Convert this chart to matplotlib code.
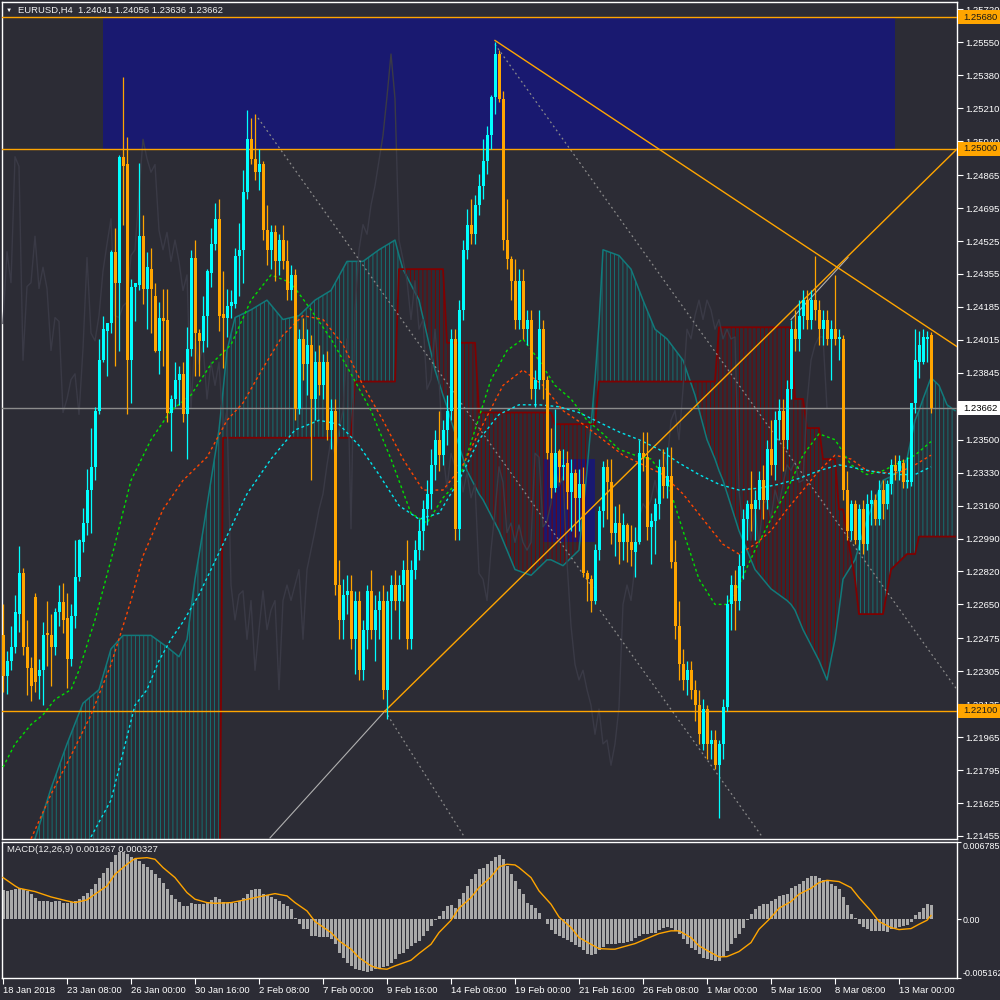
import numpy as np
import matplotlib
matplotlib.use("Agg")
import matplotlib.pyplot as plt
from matplotlib.patches import Rectangle
from matplotlib.transforms import blended_transform_factory

# EURUSD H4 candles, bar 0 = 18 Jan 2018 16:00
opens = [1.2249, 1.2228, 1.2236, 1.2243, 1.2260, 1.2281, 1.2243, 1.2232, 1.2269, 1.2228,
         1.2231, 1.2250, 1.2249, 1.2243, 1.2261, 1.2266, 1.2258, 1.2237, 1.2259, 1.2279,
         1.2297, 1.2307, 1.2324, 1.2336, 1.2365, 1.2391, 1.2406, 1.2410, 1.2447, 1.2431,
         1.2496, 1.2492, 1.2391, 1.2429, 1.2430, 1.2455, 1.2428, 1.2438, 1.2424, 1.2396,
         1.2413, 1.2412, 1.2364, 1.2371, 1.2381, 1.2384, 1.2363, 1.2397, 1.2444, 1.2405,
         1.2401, 1.2414, 1.2436, 1.2451, 1.2464, 1.2415, 1.2413, 1.2419, 1.2420, 1.2445,
         1.2448, 1.2478, 1.2505, 1.2495, 1.2488, 1.2492, 1.2458, 1.2448, 1.2457, 1.2442,
         1.2453, 1.2442, 1.2427, 1.2435, 1.2366, 1.2402, 1.2389, 1.2399, 1.2371, 1.2390,
         1.2378, 1.2390, 1.2355, 1.2365, 1.2275, 1.2257, 1.2270, 1.2272, 1.2247, 1.2267,
         1.2231, 1.2252, 1.2272, 1.2252, 1.2262, 1.2267, 1.2221, 1.2267, 1.2275, 1.2267,
         1.2275, 1.2283, 1.2247, 1.2283, 1.2293, 1.2303, 1.2314, 1.2322, 1.2337, 1.2350,
         1.2342, 1.2355, 1.2365, 1.2402, 1.2304, 1.2417, 1.2448, 1.2461, 1.2456, 1.2471,
         1.2481, 1.2494, 1.2507, 1.2527, 1.2549, 1.2526, 1.2453, 1.2443, 1.2432, 1.2412,
         1.2432, 1.2407, 1.2412, 1.2376, 1.2381, 1.2407, 1.2381, 1.2343, 1.2325, 1.2344,
         1.2336, 1.2338, 1.2323, 1.2333, 1.2320, 1.2327, 1.2281, 1.2278, 1.2267, 1.2293,
         1.2313, 1.2336, 1.2328, 1.2302, 1.2307, 1.2297, 1.2306, 1.2297, 1.2292, 1.2297,
         1.2343, 1.2341, 1.2305, 1.2308, 1.2317, 1.2336, 1.2326, 1.2331, 1.2287, 1.2254,
         1.2234, 1.2226, 1.2231, 1.2221, 1.2213, 1.2193, 1.2211, 1.2193, 1.2195, 1.2182,
         1.2193, 1.2212, 1.2265, 1.2275, 1.2267, 1.2285, 1.2309, 1.2317, 1.2314, 1.2319,
         1.2329, 1.2319, 1.2345, 1.2337, 1.2360, 1.2365, 1.2350, 1.2376, 1.2407, 1.2402,
         1.2414, 1.2422, 1.2412, 1.2422, 1.2417, 1.2407, 1.2412, 1.2402, 1.2407, 1.2402,
         1.2402, 1.2324, 1.2303, 1.2317, 1.2298, 1.2314, 1.2296, 1.2317, 1.2319, 1.2309,
         1.2324, 1.2317, 1.2327, 1.2337, 1.2334, 1.2338, 1.2328, 1.2328, 1.2369, 1.2390,
         1.2390, 1.2402, 1.24041]
highs = [1.2265, 1.2241, 1.2254, 1.2270, 1.2295, 1.2284, 1.2257, 1.2238, 1.2271, 1.2237,
         1.2256, 1.2267, 1.2260, 1.2263, 1.2275, 1.2276, 1.2271, 1.2265, 1.2298, 1.2299,
         1.2315, 1.2335, 1.2356, 1.2367, 1.2402, 1.2414, 1.2410, 1.2448, 1.2459, 1.2497,
         1.2537, 1.2506, 1.2433, 1.2431, 1.2493, 1.2466, 1.2447, 1.2449, 1.2431, 1.2421,
         1.2428, 1.2428, 1.2373, 1.2390, 1.2388, 1.2390, 1.2408, 1.2448, 1.2453, 1.2407,
         1.2424, 1.2438, 1.2459, 1.2472, 1.2474, 1.2437, 1.2428, 1.2427, 1.2449, 1.2462,
         1.2489, 1.2520, 1.2516, 1.2518, 1.2500, 1.2494, 1.2471, 1.2461, 1.2461, 1.2456,
         1.2461, 1.2453, 1.2440, 1.2438, 1.2407, 1.2413, 1.2407, 1.2404, 1.2396, 1.2399,
         1.2394, 1.2396, 1.2371, 1.2371, 1.2288, 1.2278, 1.2280, 1.2280, 1.2272, 1.2272,
         1.2257, 1.2275, 1.2283, 1.2270, 1.2272, 1.2275, 1.2272, 1.2280, 1.2283, 1.2280,
         1.2288, 1.2298, 1.2288, 1.2298, 1.2309, 1.2319, 1.2329, 1.2345, 1.2355, 1.2365,
         1.2360, 1.2373, 1.2407, 1.2407, 1.2422, 1.2453, 1.2469, 1.2474, 1.2476, 1.2487,
         1.2505, 1.2512, 1.2528, 1.2555, 1.2551, 1.2530, 1.2474, 1.2445, 1.2443, 1.2438,
         1.2438, 1.2417, 1.2417, 1.2386, 1.2417, 1.2412, 1.2383, 1.2356, 1.2366, 1.2345,
         1.2345, 1.2344, 1.2340, 1.2335, 1.2335, 1.2336, 1.2283, 1.2280, 1.2296, 1.2316,
         1.2339, 1.2340, 1.2340, 1.2316, 1.2317, 1.2312, 1.2307, 1.2306, 1.2305, 1.2350,
         1.2354, 1.2354, 1.2312, 1.2320, 1.2340, 1.2345, 1.2346, 1.2346, 1.2298, 1.2267,
         1.2242, 1.2236, 1.2236, 1.2226, 1.2221, 1.2216, 1.2213, 1.2200, 1.2200, 1.2195,
         1.2216, 1.2270, 1.2280, 1.2283, 1.2291, 1.2314, 1.2319, 1.2334, 1.2324, 1.2334,
         1.2337, 1.2350, 1.2360, 1.2365, 1.2371, 1.2371, 1.2381, 1.2412, 1.2417, 1.2422,
         1.2427, 1.2427, 1.2427, 1.2445, 1.2422, 1.2417, 1.2417, 1.2412, 1.2435, 1.2407,
         1.2404, 1.2334, 1.2319, 1.2319, 1.2317, 1.2319, 1.2322, 1.2324, 1.2322, 1.2329,
         1.2329, 1.2329, 1.2340, 1.2342, 1.2342, 1.2340, 1.2341, 1.2369, 1.2407, 1.2406,
         1.2407, 1.2406, 1.24056]
lows = [1.2220, 1.2219, 1.2231, 1.2240, 1.2251, 1.2239, 1.2218, 1.2215, 1.2220, 1.2216,
        1.2213, 1.2233, 1.2223, 1.2239, 1.2254, 1.2250, 1.2222, 1.2233, 1.2253, 1.2277,
        1.2292, 1.2301, 1.2302, 1.2329, 1.2363, 1.2390, 1.2383, 1.2405, 1.2388, 1.2396,
        1.2461, 1.2363, 1.2369, 1.2411, 1.2427, 1.2420, 1.2407, 1.2405, 1.2395, 1.2384,
        1.2388, 1.2359, 1.2344, 1.2367, 1.2368, 1.2359, 1.2340, 1.2393, 1.2383, 1.2383,
        1.2395, 1.2398, 1.2429, 1.2448, 1.2406, 1.2387, 1.2403, 1.2413, 1.2418, 1.2424,
        1.2431, 1.2474, 1.2492, 1.2484, 1.2479, 1.2453, 1.2440, 1.2438, 1.2432, 1.2435,
        1.2438, 1.2422, 1.2422, 1.2360, 1.2363, 1.2381, 1.2373, 1.2329, 1.2360, 1.2373,
        1.2371, 1.2350, 1.2345, 1.2270, 1.2247, 1.2247, 1.2260, 1.2242, 1.2229, 1.2226,
        1.2226, 1.2242, 1.2247, 1.2236, 1.2247, 1.2216, 1.2206, 1.2247, 1.2262, 1.2247,
        1.2267, 1.2242, 1.2242, 1.2278, 1.2288, 1.2293, 1.2306, 1.2314, 1.2329, 1.2334,
        1.2337, 1.2347, 1.2360, 1.2298, 1.2298, 1.2412, 1.2443, 1.2451, 1.2451, 1.2466,
        1.2474, 1.2487, 1.2500, 1.2518, 1.2524, 1.2448, 1.2438, 1.2422, 1.2407, 1.2407,
        1.2402, 1.2399, 1.2371, 1.2367, 1.2376, 1.2371, 1.2340, 1.2320, 1.2323, 1.2328,
        1.2329, 1.2314, 1.2303, 1.2300, 1.2303, 1.2279, 1.2267, 1.2261, 1.2265, 1.2288,
        1.2305, 1.2309, 1.2296, 1.2290, 1.2286, 1.2288, 1.2287, 1.2285, 1.2279, 1.2296,
        1.2334, 1.2298, 1.2286, 1.2291, 1.2309, 1.2320, 1.2320, 1.2284, 1.2247, 1.2226,
        1.2221, 1.2218, 1.2216, 1.2205, 1.2193, 1.2190, 1.2185, 1.2185, 1.2180, 1.2155,
        1.2185, 1.2210, 1.2252, 1.2252, 1.2262, 1.2278, 1.2298, 1.2303, 1.2298, 1.2314,
        1.2309, 1.2314, 1.2332, 1.2329, 1.2350, 1.2334, 1.2345, 1.2371, 1.2396, 1.2396,
        1.2407, 1.2407, 1.2407, 1.2412, 1.2399, 1.2399, 1.2399, 1.2381, 1.2399, 1.2391,
        1.2319, 1.2298, 1.2298, 1.2296, 1.2293, 1.2291, 1.2293, 1.2306, 1.2306, 1.2306,
        1.2309, 1.2314, 1.2322, 1.2329, 1.2329, 1.2325, 1.2325, 1.2326, 1.2364, 1.2382,
        1.2389, 1.2390, 1.23636]
closes = [1.2228, 1.2236, 1.2243, 1.2261, 1.2281, 1.2243, 1.2232, 1.2223, 1.2225, 1.2231,
          1.2249, 1.2249, 1.2243, 1.2261, 1.2266, 1.2257, 1.2237, 1.2259, 1.2279, 1.2298,
          1.2307, 1.2324, 1.2336, 1.2365, 1.2391, 1.2407, 1.2410, 1.2447, 1.2431, 1.2496,
          1.2491, 1.2391, 1.2429, 1.2431, 1.2455, 1.2428, 1.2439, 1.2428, 1.2396, 1.2413,
          1.2411, 1.2364, 1.2371, 1.2381, 1.2384, 1.2363, 1.2397, 1.2444, 1.2405, 1.2401,
          1.2414, 1.2437, 1.2451, 1.2464, 1.2414, 1.2413, 1.2419, 1.2421, 1.2445, 1.2448,
          1.2478, 1.2505, 1.2495, 1.2488, 1.2492, 1.2458, 1.2448, 1.2457, 1.2442, 1.2453,
          1.2442, 1.2427, 1.2435, 1.2366, 1.2402, 1.2389, 1.2399, 1.2371, 1.2390, 1.2378,
          1.2390, 1.2355, 1.2365, 1.2275, 1.2257, 1.2270, 1.2272, 1.2247, 1.2267, 1.2231,
          1.2252, 1.2272, 1.2252, 1.2262, 1.2267, 1.2221, 1.2267, 1.2275, 1.2267, 1.2275,
          1.2283, 1.2247, 1.2283, 1.2293, 1.2303, 1.2314, 1.2322, 1.2337, 1.2350, 1.2342,
          1.2355, 1.2365, 1.2402, 1.2304, 1.2417, 1.2448, 1.2461, 1.2456, 1.2471, 1.2481,
          1.2494, 1.2507, 1.2527, 1.2549, 1.2526, 1.2453, 1.2443, 1.2432, 1.2412, 1.2432,
          1.2407, 1.2412, 1.2376, 1.2381, 1.2407, 1.2381, 1.2343, 1.2325, 1.2343, 1.2336,
          1.2337, 1.2323, 1.2333, 1.2320, 1.2327, 1.2281, 1.2278, 1.2267, 1.2293, 1.2313,
          1.2336, 1.2328, 1.2302, 1.2307, 1.2297, 1.2306, 1.2297, 1.2293, 1.2297, 1.2343,
          1.2341, 1.2305, 1.2308, 1.2317, 1.2336, 1.2326, 1.2331, 1.2287, 1.2254, 1.2234,
          1.2226, 1.2231, 1.2221, 1.2213, 1.2198, 1.2211, 1.2193, 1.2195, 1.2182, 1.2193,
          1.2212, 1.2265, 1.2275, 1.2267, 1.2285, 1.2309, 1.2317, 1.2314, 1.2319, 1.2329,
          1.2319, 1.2345, 1.2337, 1.2360, 1.2365, 1.2350, 1.2376, 1.2407, 1.2402, 1.2414,
          1.2422, 1.2412, 1.2422, 1.2417, 1.2407, 1.2412, 1.2402, 1.2407, 1.2402, 1.2403,
          1.2324, 1.2303, 1.2317, 1.2298, 1.2314, 1.2296, 1.2317, 1.2319, 1.2309, 1.2324,
          1.2317, 1.2327, 1.2337, 1.2334, 1.2339, 1.2328, 1.2329, 1.2369, 1.2391, 1.2399,
          1.2403, 1.2403, 1.23662]

# MACD(12,26,9) main values, units of 1e-5
macd_e5 = [255, 249, 255, 269, 278, 269, 249, 225, 190, 158,
           158, 158, 152, 158, 161, 146, 143, 152, 161, 181,
           205, 228, 269, 307, 366, 404, 454, 506, 565, 594,
           594, 571, 547, 527, 512, 489, 462, 433, 395, 366,
           322, 269, 211, 176, 152, 117, 117, 146, 138, 132,
           138, 152, 173, 196, 176, 152, 146, 146, 143, 161,
           190, 225, 255, 263, 263, 225, 214, 196, 176, 161,
           132, 117, 88, 15, -44, -88, -88, -146, -146, -155,
           -155, -155, -176, -220, -293, -342, -381, -410, -439, -448,
           -454, -460, -454, -439, -424, -419, -410, -381, -351, -307,
           -293, -263, -234, -205, -190, -146, -102, -59, -9, 29,
           73, 117, 123, 102, 176, 234, 293, 351, 401, 439,
           454, 483, 512, 547, 565, 527, 468, 395, 337, 263,
           220, 146, 123, 97, 59, 0, -38, -97, -132, -146,
           -161, -184, -196, -225, -243, -272, -307, -313, -307, -272,
           -243, -220, -214, -214, -208, -208, -196, -190, -161, -146,
           -126, -126, -120, -120, -97, -73, -67, -73, -102, -132,
           -176, -220, -249, -272, -307, -337, -351, -360, -366, -366,
           -322, -278, -220, -161, -132, -73, -9, 44, 88, 117,
           132, 132, 161, 176, 205, 214, 220, 272, 293, 313,
           337, 366, 381, 381, 366, 342, 337, 313, 293, 263,
           196, 126, 50, 15, -38, -67, -88, -102, -102, -102,
           -102, -108, -88, -73, -67, -59, -50, -20, 38, 67,
           97, 138, 127]
sig_bars = [0, 3, 4, 8, 12, 16, 18, 21, 23, 26, 28, 31, 33, 36, 38, 40, 43, 46, 48, 51,
            53, 57, 60, 63, 66, 68, 71, 73, 76, 78, 82, 84, 87, 89, 92, 94, 96, 98, 102, 104,
            107, 109, 112, 114, 117, 119, 122, 124, 126, 128, 129, 132, 134, 137, 139, 142,
            144, 147, 149, 152, 153, 155, 158, 160, 163, 164, 167, 169, 172, 174, 177, 179,
            181, 184, 187, 189, 192, 194, 197, 199, 202, 204, 206, 209, 212, 214, 217, 219,
            222, 224, 227, 229, 231, 232]
sig_e5 = [366, 293, 272, 243, 196, 161, 146, 170, 220, 293, 395, 483, 533, 541, 527, 454,
          366, 234, 176, 146, 140, 146, 167, 190, 211, 225, 205, 146, 73, -20, -117, -190,
          -263, -337, -410, -433, -439, -410, -360, -301, -220, -117, -9, 97, 190, 278, 372,
          460, 483, 477, 454, 366, 249, 132, 20, -73, -161, -220, -258, -263, -263, -243,
          -214, -184, -140, -126, -102, -102, -161, -234, -293, -331, -328, -284, -205, -88,
          15, 97, 155, 220, 272, 322, 342, 331, 278, 190, 73, -20, -73, -91, -82, -44, -9, 33]

# dashed moving averages (bar, price)
green_bars = [0, 3, 7, 10, 13, 17, 19, 23, 27, 32, 37, 42, 47, 52, 57, 62, 67, 72, 77, 82,
              87, 92, 97, 102, 106, 110, 114, 118, 122, 126, 130, 134, 138, 142, 146, 150,
              154, 158, 162, 166, 170, 174, 178, 181, 184, 188, 192, 196, 200, 204, 208,
              212, 216, 220, 224, 228, 232]
green_vals = [1.2181, 1.2193, 1.2203, 1.2208, 1.2216, 1.2221, 1.2231, 1.2257, 1.2288, 1.2329,
              1.2350, 1.2365, 1.2373, 1.2389, 1.2399, 1.2422, 1.2435, 1.2431, 1.2417, 1.2402,
              1.2384, 1.2365, 1.2340, 1.2312, 1.2307, 1.2320, 1.2329, 1.2355, 1.2381, 1.2396,
              1.2402, 1.2391, 1.2378, 1.2371, 1.2360, 1.2353, 1.2345, 1.2342, 1.2340, 1.2329,
              1.2303, 1.2278, 1.2265, 1.2265, 1.2275, 1.2293, 1.2309, 1.2324, 1.2342, 1.2353,
              1.2350, 1.2337, 1.2332, 1.2334, 1.2338, 1.2342, 1.2349]
red_bars = [7, 12, 17, 22, 27, 32, 35, 40, 45, 51, 56, 60, 65, 70, 75, 80, 85, 90, 95, 100,
            105, 110, 115, 120, 125, 130, 135, 140, 145, 150, 155, 160, 165, 170, 175, 180,
            184, 188, 192, 196, 200, 204, 208, 212, 216, 220, 224, 228, 232]
red_vals = [1.2144, 1.2167, 1.2187, 1.2208, 1.2234, 1.2267, 1.2290, 1.2314, 1.2329, 1.2341,
            1.2360, 1.2369, 1.2387, 1.2404, 1.2414, 1.2412, 1.2399, 1.2378, 1.2360, 1.2340,
            1.2324, 1.2324, 1.2337, 1.2358, 1.2378, 1.2386, 1.2378, 1.2365, 1.2358, 1.2350,
            1.2342, 1.2337, 1.2332, 1.2322, 1.2309, 1.2296, 1.2291, 1.2296, 1.2303, 1.2314,
            1.2324, 1.2334, 1.2342, 1.2340, 1.2334, 1.2333, 1.2333, 1.2337, 1.2342]
cyan_bars = [22, 27, 33, 36, 39, 42, 45, 49, 55, 61, 67, 73, 79, 84, 89, 94, 99, 104, 109,
             114, 119, 124, 129, 134, 139, 144, 149, 154, 159, 164, 169, 174, 179, 184, 189,
             194, 199, 204, 209, 214, 219, 224, 228, 232]
cyan_vals = [1.2145, 1.2164, 1.2213, 1.2221, 1.2236, 1.2247, 1.2256, 1.2270, 1.2296, 1.2322,
             1.2340, 1.2355, 1.2360, 1.2358, 1.2347, 1.2332, 1.2316, 1.2309, 1.2312, 1.2329,
             1.2350, 1.2363, 1.2368, 1.2368, 1.2367, 1.2364, 1.2359, 1.2354, 1.2350, 1.2345,
             1.2338, 1.2332, 1.2327, 1.2324, 1.2325, 1.2327, 1.2330, 1.2334, 1.2337, 1.2335,
             1.2333, 1.2332, 1.2332, 1.2336]

# ichimoku cloud: senkou span A / span B
ichi_bars = [0, 8, 12, 16, 20, 24, 27, 30, 37, 41, 44, 46, 48, 50, 52, 54, 55, 56, 58, 62,
             66, 70, 74, 75, 78, 82, 86, 87, 88, 90, 94, 98, 99, 100, 104, 108, 110, 111, 112, 116,
             118, 119, 120, 124, 128, 132, 136, 137, 138, 140, 144, 146, 148, 149, 150, 154, 157, 160, 163, 166,
             170, 173, 176, 178, 179, 180, 184, 188, 192, 196, 197, 198, 200, 201, 204, 205, 206, 208, 209, 210,
             213, 214, 216, 220, 222, 224, 226, 228, 229, 230, 232, 234, 236, 238]
span_a = [1.2120, 1.2144, 1.2170, 1.2193, 1.2214, 1.2221, 1.2242, 1.2249, 1.2249, 1.2243,
          1.2238, 1.2247, 1.2278, 1.2303, 1.2329, 1.2355, 1.2375, 1.2396, 1.2413, 1.2417,
          1.2422, 1.2412, 1.2414, 1.2416, 1.2422, 1.2427, 1.2442, 1.2442, 1.2442, 1.2442,
          1.2448, 1.2453, 1.2445, 1.2438, 1.2422, 1.2386, 1.2373, 1.2367, 1.2360, 1.2334,
          1.2326, 1.2322, 1.2319, 1.2303, 1.2283, 1.2280, 1.2288, 1.2288, 1.2287, 1.2285,
          1.2293, 1.2334, 1.2381, 1.2410, 1.2448, 1.2445, 1.2438, 1.2422, 1.2407, 1.2402,
          1.2391, 1.2373, 1.2350, 1.2340, 1.2334, 1.2329, 1.2303, 1.2283, 1.2273, 1.2267,
          1.2265, 1.2262, 1.2252, 1.2248, 1.2236, 1.2231, 1.2226, 1.2247, 1.2262, 1.2278,
          1.2288, 1.2295, 1.2309, 1.2329, 1.2331, 1.2334, 1.2340, 1.2360, 1.2365, 1.2371,
          1.2382, 1.2378, 1.2368, 1.2365]
span_b = [1.2080] * 16 + [1.2351] * 12 + [1.2380] * 4 + [1.2438] * 5 + [1.2400] * 4 + \
         [1.2364] * 7 + [1.2358] * 5 + [1.2380] * 11 + [1.2408] * 7 + [1.2371] * 2 + \
         [1.2356] * 2 + [1.2340] * 3 + [1.2314] * 2 + [1.2278] + [1.2260] * 3 + [1.2283] + \
         [1.2287] + [1.2291] * 2 + [1.2300] * 6

price_ticks = [1.25720, 1.25550, 1.25380, 1.25210, 1.25040, 1.24865, 1.24695, 1.24525,
               1.24355, 1.24185, 1.24015, 1.23845, 1.23675, 1.23500, 1.23330, 1.23160,
               1.22990, 1.22820, 1.22650, 1.22475, 1.22305, 1.22135, 1.21965, 1.21795,
               1.21625, 1.21455]
time_ticks = [0, 16, 32, 48, 64, 80, 96, 112, 128, 144, 160, 176, 192, 208, 224]
time_labels = ["18 Jan 2018", "23 Jan 08:00", "26 Jan 00:00", "30 Jan 16:00", "2 Feb 08:00",
               "7 Feb 00:00", "9 Feb 16:00", "14 Feb 08:00", "19 Feb 00:00", "21 Feb 16:00",
               "26 Feb 08:00", "1 Mar 00:00", "5 Mar 16:00", "8 Mar 08:00", "13 Mar 00:00"]

hlines_orange = [1.25680, 1.25000, 1.22100]
last_price = 1.23662

bg = "#2c2c35"
up_col = "#00ffff"
dn_col = "#ffa500"
teal = "#117a7b"
maroon = "#800000"
navy = "#191970"

plt.rcParams['font.family'] = ['Liberation Sans', 'DejaVu Sans']
plt.rcParams['hatch.linewidth'] = 0.6
fs = 6.8

fig = plt.figure(figsize=(10, 10), dpi=100, facecolor=bg)
ax = fig.add_axes([0.002, 0.161, 0.955, 0.837])
ax2 = fig.add_axes([0.002, 0.022, 0.955, 0.136], sharex=ax)

for a in (ax, ax2):
    a.set_facecolor(bg)
    for s in a.spines.values():
        s.set_color("white")
        s.set_linewidth(1)

ax.set_xlim(-0.25, 238.5)
ax.set_ylim(1.214394, 1.257585)

# rectangles
ax.add_patch(Rectangle((25, 1.2500), 198, 0.0068, facecolor=navy, edgecolor="none", zorder=1))
ax.add_patch(Rectangle((135, 1.2297), 13, 0.0043, facecolor=navy, edgecolor="none", zorder=1))

# ichimoku cloud
ib = np.array(ichi_bars)
sa = np.array(span_a)
sb = np.array(span_b)
ax.fill_between(ib, sa, sb, where=sa >= sb, interpolate=True, facecolor="none",
                edgecolor=teal, hatch="||||", linewidth=0, zorder=2)
ax.fill_between(ib, sa, sb, where=sa < sb, interpolate=True, facecolor="none",
                edgecolor=maroon, hatch="||||", linewidth=0, zorder=2)
ax.plot(ib, sa, color=teal, lw=1.1, zorder=2.5)
ax.plot(ib, sb, color=maroon, lw=1.3, zorder=2.5)

# chikou span
c_arr = np.array(closes)
ax.plot(np.arange(len(closes) - 26), c_arr[26:], color="#3a3a46", lw=1, zorder=2.6)

# channel lines (dotted grey)
dot_style = dict(color="#8a8a8a", lw=0.9, ls=(0, (1.5, 2.5)), zorder=3)
ax.plot([63.75, 148.0], [1.2516, 1.2272], **dot_style)
ax.plot([123, 238.5], [1.2554, 1.2221], **dot_style)
ax.plot([95.5, 115.5], [1.2210, 1.21445], **dot_style)
ax.plot([149.25, 190.0], [1.2262, 1.21445], **dot_style)

# trend lines
ax.plot([66.75, 95.5], [1.21445, 1.2210], color="#b0b0b0", lw=0.8, zorder=3)
ax.plot([197, 211.25], [1.2412, 1.2444], color="#b0b0b0", lw=0.8, zorder=3)
ax.plot([95.5, 238.5], [1.2210, 1.2500], color=dn_col, lw=1, zorder=3.1)
ax.plot([123, 238.5], [1.2556, 1.2398], color=dn_col, lw=1, zorder=3.1)

for p in hlines_orange:
    ax.axhline(p, color=dn_col, lw=1, zorder=3)
ax.axhline(last_price, color="#8c8c8c", lw=1, zorder=3)

# moving averages
dash = (0, (2, 2))
ax.plot(green_bars, green_vals, color="#00e000", lw=1, ls=dash, zorder=3.5)
ax.plot(red_bars, red_vals, color="#ff4500", lw=1, ls=dash, zorder=3.5)
ax.plot(cyan_bars, cyan_vals, color="#00e5ee", lw=1, ls=dash, zorder=3.5)

# candles
x = np.arange(len(closes))
o = np.array(opens)
h = np.array(highs)
l = np.array(lows)
c = c_arr
cols = np.where(c >= o, up_col, dn_col)
ax.vlines(x, l, h, colors=cols, lw=0.9, zorder=4)
body_lo = np.minimum(o, c)
body_h = np.maximum(np.abs(c - o), 0.00005)
ax.bar(x, body_h, bottom=body_lo, width=0.75, color=cols, linewidth=0, zorder=4.1)

# price axis
ax.yaxis.tick_right()
ax.set_yticks(price_ticks)
ax.set_yticklabels(["" if p == 1.23675 else f"{p:.5f}" for p in price_ticks])
ax.tick_params(axis="y", colors="white", length=4, width=0.8, labelsize=fs, pad=2)
ax.tick_params(axis="x", bottom=False, labelbottom=False)

trans = blended_transform_factory(fig.transFigure, ax.transData)
half = 0.00037
for p, fc, tc in [(1.25680, dn_col, "#1a1a1a"), (1.25000, dn_col, "#1a1a1a"),
                  (1.22100, dn_col, "#1a1a1a"), (last_price, "white", "black")]:
    ax.add_patch(Rectangle((0.958, p - half), 0.042, 2 * half, transform=trans,
                           facecolor=fc, edgecolor="none", clip_on=False, zorder=10))
    ax.text(0.963, p, f"{p:.5f}", transform=trans, va="center", ha="left",
            color=tc, fontsize=fs, zorder=11, clip_on=False)

fig.text(0.006, 0.9895, "\u25BC", color="white", fontsize=4.5, va="center")
fig.text(0.018, 0.9895, "EURUSD,H4  1.24041 1.24056 1.23636 1.23662", color="#f0f0f0",
         fontsize=fs, va="center")

# MACD panel
ax2.set_ylim(-0.005162, 0.006785)
macd = np.array(macd_e5) * 1e-5
ax2.bar(x, macd, width=0.75, color="#a9a9a9", linewidth=0, zorder=2)
ax2.plot(sig_bars, np.array(sig_e5) * 1e-5, color=dn_col, lw=1, zorder=3)
ax2.yaxis.tick_right()
ax2.set_yticks([0.006785, 0.0, -0.005162])
ax2.set_yticklabels(["0.006785", "0.00", "-0.005162"])
ax2.tick_params(axis="y", colors="white", length=3, width=0.8, labelsize=6.4, pad=1)
ylabs = ax2.get_yticklabels()
ylabs[0].set_verticalalignment("top")
ylabs[2].set_verticalalignment("bottom")
fig.text(0.007, 0.150, "MACD(12,26,9) 0.001267 0.000327", color="#f0f0f0", fontsize=fs,
         va="center")

ax2.set_xticks(time_ticks)
ax2.set_xticklabels(time_labels, ha="left")
ax2.tick_params(axis="x", colors="white", length=4, width=0.8, labelsize=fs, pad=2)

fig.savefig("out.png", dpi=100, facecolor=bg)
